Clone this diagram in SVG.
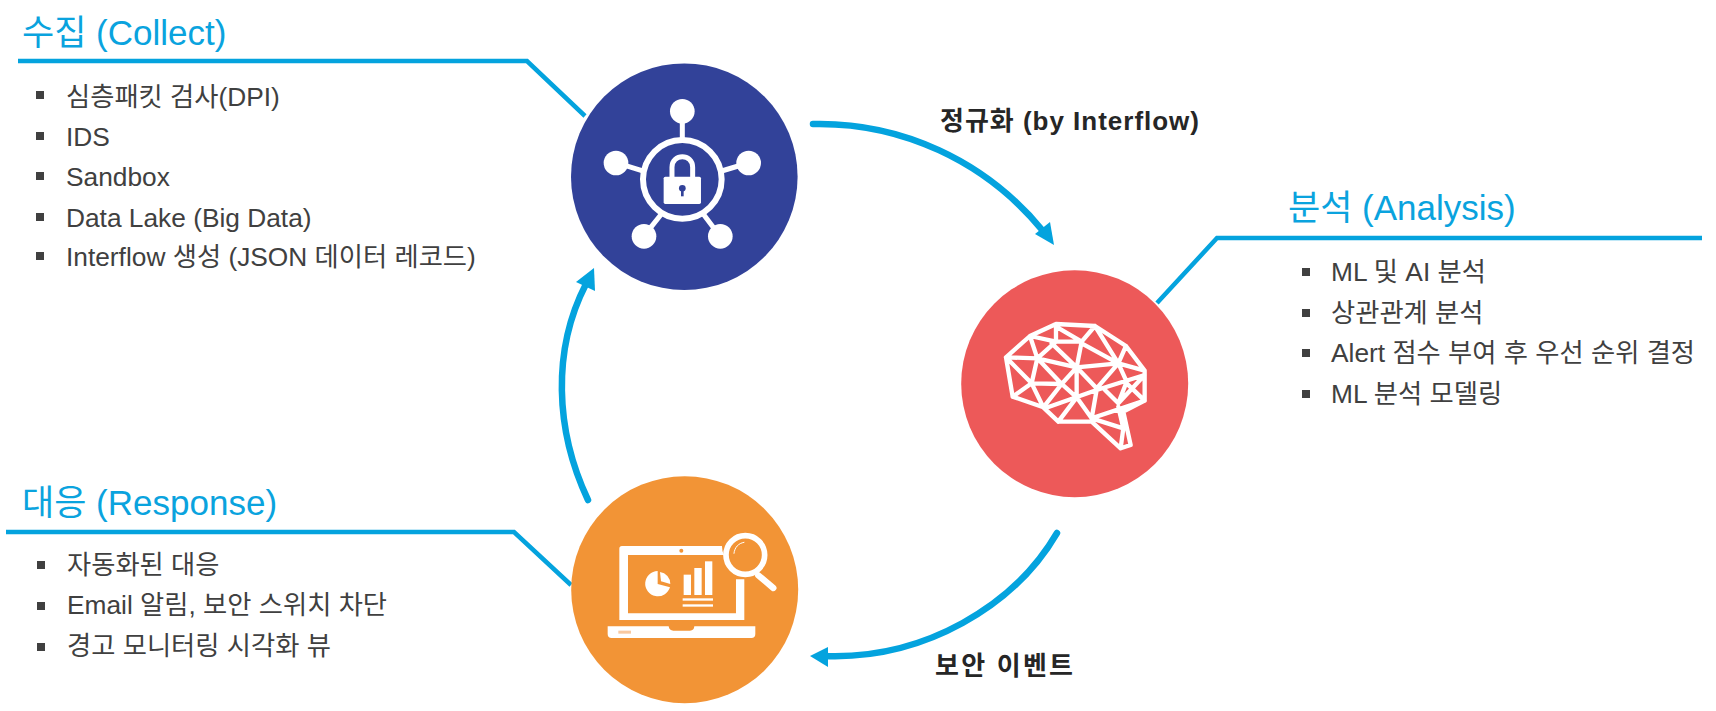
<svg xmlns="http://www.w3.org/2000/svg" width="1716" height="711" viewBox="0 0 1716 711">
<style>
text{font-family:"Liberation Sans","Noto Sans CJK KR",sans-serif}
.h{font-size:35px;fill:#0aa3de}
.t{font-size:26.3px;fill:#404040}
.b{font-size:26px;font-weight:700;fill:#262626}
.ln{fill:none;stroke:#04a3de;stroke-width:4.5}
.arc{fill:none;stroke:#04a3de;stroke-width:6.5;stroke-linecap:round}
.ah{fill:#04a3de}
.sq{fill:#404040}
.w{fill:none;stroke:#fff;stroke-linejoin:round;stroke-linecap:round}
.wf{fill:#fff}
</style>
<rect width="1716" height="711" fill="#fff"/>
<g id="connectors">
<path class="ln" d="M18 61H527L585 116"/>
<path class="ln" d="M1702 238H1217L1157 303"/>
<path class="ln" d="M6 532H514L571 585"/>
<path class="arc" d="M813 124C900 122 985 160 1043 231"/>
<path class="ah" d="M1054 245L1035 234L1050 222Z"/>
<path class="arc" d="M1057 533C1015 605 925 660 824 656"/>
<path class="ah" d="M810 656L828 647L828 667Z"/>
<path class="arc" d="M588 500C555 430 552 350 586 284"/>
<path class="ah" d="M594 268L576 282L595 291Z"/>
</g>
<g id="collect">
<circle cx="684.3" cy="176.7" r="113.3" fill="#324299"/>
<g transform="translate(540 40) scale(.3333)">
<circle class="w" cx="427" cy="418" r="118" stroke-width="18"/>
<g class="wf"><circle cx="427" cy="214" r="37"/><circle cx="228" cy="369" r="37"/><circle cx="626" cy="369" r="37"/><circle cx="312" cy="589" r="37"/><circle cx="541" cy="589" r="37"/></g>
<path class="w" stroke-width="15" stroke-linecap="butt" d="M427 240V295M250 375L308 393M605 375L545 393M330 565L362 525M522 565L492 525"/>
<path class="w" stroke-width="15" d="M396 410V382C396 340 458 340 458 382V410"/>
<rect class="wf" x="371" y="410" width="112" height="82" rx="5"/>
<circle cx="427" cy="445" r="10" fill="#324299"/><path d="M423 445H431L431 469H423Z" fill="#324299"/>
</g>
<text class="h" x="22" y="45">수집 (Collect)</text>
<g class="t">
<text x="66" y="106">심층패킷 검사(DPI)</text>
<text x="66" y="146">IDS</text>
<text x="66" y="186">Sandbox</text>
<text x="66" y="227">Data Lake (Big Data)</text>
<text x="66" y="266">Interflow 생성 (JSON 데이터 레코드)</text>
</g>
<g class="sq"><rect x="36" y="91" width="8" height="8"/><rect x="36" y="132" width="8" height="8"/><rect x="36" y="172" width="8" height="8"/><rect x="36" y="213" width="8" height="8"/><rect x="36" y="252" width="8" height="8"/></g>
</g>
<g id="analysis">
<circle cx="1074.7" cy="383.7" r="113.5" fill="#ed5959"/>
<g transform="translate(950 280) scale(.3333)">
<path class="w" stroke-width="13" d="M168 232L240 168L318 132L435 138L528 198L584 272V362L520 395L542 495L512 505L425 425H325L280 382L188 350ZM240 168L262 235M240 168L318 185V132M318 140L395 185L435 138M318 185H390M318 185L262 235L380 262M305 190L380 262M395 185L380 262M395 190L505 250M435 138L505 250L528 198M505 250L380 262M505 250L584 272M168 232L262 235M168 232L245 310L262 235L335 312L245 310L188 350M245 310L280 382L335 312L380 262V352L335 312M380 262L440 325L505 250M285 385L440 330L584 285M380 352L325 425M380 352L425 415L440 330M465 330L505 370L530 305L505 250M584 285L505 370M530 310L584 362M584 362L425 415L520 445L505 380M520 445L512 505"/>
</g>
<text class="h" x="1288" y="220">분석 (Analysis)</text>
<g class="t">
<text x="1331" y="281">ML 및 AI 분석</text>
<text x="1331" y="322">상관관계 분석</text>
<text x="1331" y="362">Alert 점수 부여 후 우선 순위 결정</text>
<text x="1331" y="403">ML 분석 모델링</text>
</g>
<g class="sq"><rect x="1302" y="268" width="8" height="8"/><rect x="1302" y="309" width="8" height="8"/><rect x="1302" y="349" width="8" height="8"/><rect x="1302" y="390" width="8" height="8"/></g>
</g>
<g id="response">
<circle cx="684.7" cy="589.7" r="113.5" fill="#f29436"/>
<g transform="translate(560 510) scale(.3333)">
<path class="wf" d="M186 108H486A60 60 0 0 0 492 135H204V310H528V208H553V330H178V116Q178 108 186 108Z"/>
<circle cx="364" cy="122" r="6" fill="#f29436"/>
<circle class="w" cx="556" cy="135" r="58" stroke-width="17"/>
<path class="w" stroke-width="19" d="M595 196L640 234"/>
<path class="w" stroke-width="3" d="M522 130C524 112 535 100 552 97"/>
<path class="wf" d="M293 183A38 38 0 1 0 330 232L293 222Z"/>
<path class="wf" d="M300 186A36 36 0 0 1 331 222L303 214Z"/>
<rect class="wf" x="371" y="194" width="22" height="61"/><rect class="wf" x="403" y="174" width="22" height="81"/><rect class="wf" x="435" y="154" width="22" height="101"/>
<rect class="wf" x="368" y="265" width="91" height="7"/><rect class="wf" x="368" y="283" width="91" height="7"/>
<path class="wf" d="M143 349H326Q328 362 340 362H390Q402 362 403 349H586V372Q586 384 574 384H155Q143 384 143 372Z"/>
<rect x="175" y="362" width="38" height="9" fill="#f9c9a0"/>
</g>
<text class="h" x="22" y="515">대응 (Response)</text>
<g class="t">
<text x="67" y="574">자동화된 대응</text>
<text x="67" y="614">Email 알림, 보안 스위치 차단</text>
<text x="67" y="655">경고 모니터링 시각화 뷰</text>
</g>
<g class="sq"><rect x="37" y="561" width="8" height="8"/><rect x="37" y="602" width="8" height="8"/><rect x="37" y="643" width="8" height="8"/></g>
</g>
<text id="label-normalize" class="b" x="940" y="130" textLength="259">정규화 (by Interflow)</text>
<text id="label-event" class="b" x="935" y="675" textLength="138">보안 이벤트</text>
</svg>
